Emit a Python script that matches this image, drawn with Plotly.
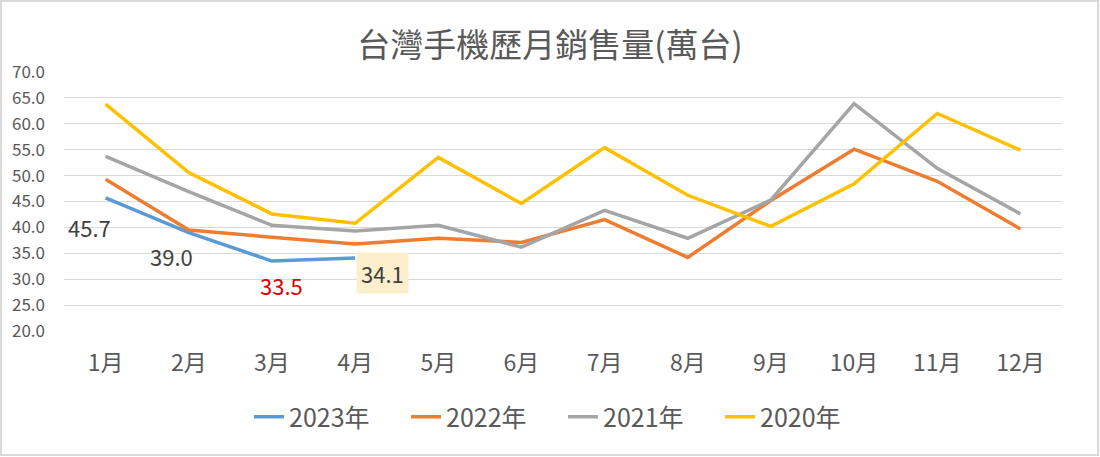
import plotly.graph_objects as go

months = ["1月", "2月", "3月", "4月", "5月", "6月", "7月", "8月", "9月", "10月", "11月", "12月"]
y2023 = [45.7, 39.0, 33.5, 34.1]
y2022 = [49.3, 39.5, 38.1, 36.8, 37.9, 37.1, 41.5, 34.2, 45.2, 55.1, 48.9, 39.7]
y2021 = [53.7, 46.9, 40.4, 39.3, 40.4, 36.2, 43.3, 37.9, 45.3, 63.9, 51.4, 42.6]
y2020 = [63.8, 50.6, 42.6, 40.8, 53.5, 44.6, 55.4, 46.2, 40.2, 48.4, 62.0, 54.9]

series = [("2023年", y2023, "#5b9bd5"), ("2022年", y2022, "#ed7d31"),
          ("2021年", y2021, "#a5a5a5"), ("2020年", y2020, "#ffc000")]

FONT = "Noto Sans CJK TC"
W, H = 1100, 457
L, R, T, B = 64, 38, 72, 126
PW, PH = W - L - R, H - T - B

fig = go.Figure()
for name, vals, col in series:
    fig.add_trace(go.Scatter(x=months[:len(vals)], y=vals, name=name, mode="lines",
                             line=dict(color=col, width=3.5)))

# data labels for 2023
label_style = [
    dict(xshift=-16, yshift=-29, color="#404040", bg=None),
    dict(xshift=-17, yshift=-23, color="#404040", bg=None),
    dict(xshift=10, yshift=-24, color="#e00000", bg=None),
    dict(xshift=27, yshift=-15, color="#404040", bg="#fdefcc"),
]
for m, v, st in zip(months, y2023, label_style):
    fig.add_annotation(x=m, y=v, xref="x", yref="y", text=f"{v:.1f}", showarrow=False,
                       xshift=st["xshift"], yshift=st["yshift"],
                       font=dict(family=FONT, size=22, color=st["color"]),
                       bgcolor=st["bg"] if st["bg"] else "rgba(0,0,0,0)", borderpad=4)

fig.update_layout(
    width=W, height=H,
    paper_bgcolor="white", plot_bgcolor="white",
    margin=dict(l=L, r=R, t=T, b=B),
    title=dict(text="台灣手機歷月銷售量(萬台)", x=0.5, xanchor="center", y=1 - 45 / H, yanchor="middle",
               font=dict(family=FONT, size=33, color="#595959")),
    font=dict(family=FONT, color="#595959"),
    showlegend=True,
    legend=dict(orientation="h", x=0.5, xanchor="center", y=-(417 - T - PH) / PH, yanchor="middle",
                font=dict(family=FONT, size=25, color="#595959"), traceorder="normal",
                entrywidth=112, entrywidthmode="pixels"),
    xaxis=dict(showgrid=False, showline=False, ticks="", range=[-0.5, 11.5],
               tickfont=dict(family=FONT, size=23, color="#595959"), ticklabelstandoff=16),
    yaxis=dict(range=[20, 70], dtick=5, tickformat=".1f", showgrid=True, gridcolor="#d9d9d9", gridwidth=1,
               zeroline=False, showline=False, ticks="", tickfont=dict(family=FONT, size=17, color="#595959"),
               ticklabelstandoff=18),
)
fig.add_shape(type="rect", xref="paper", yref="paper",
              x0=-(L - 1) / PW, x1=1 + (R - 2) / PW, y0=-(B - 2) / PH, y1=1 + (T - 1) / PH,
              line=dict(color="#d9d9d9", width=2), fillcolor="rgba(0,0,0,0)", layer="below")

fig.write_html("out.html", config={"displayModeBar": False},
               post_script="document.body.style.margin='0';document.body.style.overflow='hidden';")
